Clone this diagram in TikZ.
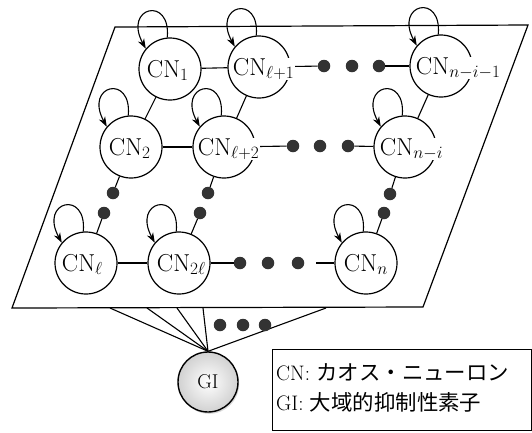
\documentclass[tikz,border=0pt]{standalone}
\usepackage{fontspec}
\newfontfamily\cjk[Scale=1.02]{Noto Sans CJK JP}
\usetikzlibrary{arrows.meta,calc,shadows}
\begin{document}
\begin{tikzpicture}[x=1pt,y=-1pt,
  cn/.style={circle, draw, line width=1.2pt, minimum size=62pt, inner sep=0pt, fill=white},
  lab/.style={anchor=base west, fill=white, inner sep=0.3pt, font=\fontsize{24.5}{27}\selectfont},
  dotn/.style={circle, fill=black!80, draw=none, inner sep=0pt, minimum size=12.5pt},
  conn/.style={line width=1.1pt},
  loopst/.style={line width=1.1pt, -{Stealth[length=10pt,width=7pt]}},
  legtext/.style={anchor=base west, inner sep=0pt, font=\fontsize{21}{24}\selectfont}
]
\newcommand\selfloop[1]{\draw[loopst] (#1.95) .. controls +(4,-42) and +(-23,-42) .. (#1.140);}
\useasboundingbox (0,0) rectangle (532,432);
% plane
\coordinate (p1) at (12,308);
\coordinate (p2) at (423,307);
\coordinate (p3) at (528,25);
\coordinate (p4) at (115,27);
\draw[line width=1.2pt] (p1) -- (p2) -- (p3) -- (p4) -- cycle;
% GI
\node[circle, draw, line width=1.4pt, minimum size=60pt, inner sep=0pt, inner color=white, outer color=black!18,
  drop shadow={shadow xshift=1.2pt, shadow yshift=-1.8pt, opacity=0.3}, font=\fontsize{20}{23}\selectfont] (gi) at (208,382) {GI};
\coordinate (b1) at (110,308);
\coordinate (b2) at (147,308);
\coordinate (b3) at (177,308);
\coordinate (b4) at (203,308);
\coordinate (b5) at (326,308);
\foreach \b in {b1,b2,b3,b4,b5} \draw[conn] (gi.north) -- (\b);
\node[dotn] (g1) at (220,325) {};
\node[dotn] (g2) at (243,325) {};
\node[dotn] (g3) at (265,325) {};
% neurons
\node[cn] (cn1) at (170,69) {};
\node[cn] (cnl1) at (259,67) {};
\node[cn] (cnni1) at (441,66) {};
\node[cn] (cn2) at (131,147) {};
\node[cn] (cnl2) at (224,147) {};
\node[cn] (cnni) at (405,147) {};
\node[cn] (cnl) at (86,263) {};
\node[cn] (cn2l) at (179,263) {};
\node[cn] (cnn) at (366,263) {};
% dots
\node[dotn] (r1a) at (324,66) {};
\node[dotn] (r1b) at (352,66) {};
\node[dotn] (r1c) at (379,66) {};
\node[dotn] (r2a) at (293,146) {};
\node[dotn] (r2b) at (320,146) {};
\node[dotn] (r2c) at (348,146) {};
\node[dotn] (r3a) at (240,263) {};
\node[dotn] (r3b) at (268,263) {};
\node[dotn] (r3c) at (298,263) {};
\coordinate (r3e) at (316,263);
\node[dotn] (c1a) at (113,193) {};
\node[dotn] (c1b) at (104,213) {};
\node[dotn] (c2a) at (208,193) {};
\node[dotn] (c2b) at (200,213) {};
\node[dotn] (c3a) at (390,194) {};
\node[dotn] (c3b) at (384,213) {};
% connectors
\draw[conn] (cn1) -- (cnl1);
\draw[conn] (cn1) -- (cn2);
\draw[conn] (cnl1) -- (cnl2);
\draw[conn] (cn2) -- (cnl2);
\draw[conn] (cnni1) -- (cnni);
\draw[conn] (cnl) -- (cn2l);
\draw[conn] (cnl1) -- (r1a);
\draw[conn] (r1c) -- (cnni1);
\draw[conn] (cnl2) -- (r2a);
\draw[conn] (r2c) -- (cnni);
\draw[conn] (cn2l) -- (r3a);
\draw[conn] (r3e) -- (cnn);
\draw[conn] (cn2) -- (c1a);
\draw[conn] (cnl) -- (c1b);
\draw[conn] (cnl2) -- (c2a);
\draw[conn] (cn2l) -- (c2b);
\draw[conn] (cnni) -- (c3a);
\draw[conn] (cnn) -- (c3b);
% self loops
\foreach \n in {cn1,cnl1,cnni1,cn2,cnl2,cnni,cnl,cn2l,cnn} {\selfloop{\n}}
% labels
\node[lab] (t1) at ([xshift=8pt,yshift=-8pt]cn1.west) {CN$_1$};
\node[lab] (t2) at ([xshift=5pt,yshift=-8pt]cnl1.west) {CN$_{\ell+1}$};
\node[lab] (t3) at ([xshift=6pt,yshift=-8pt]cnni1.west) {CN$_{n-i-1}$};
\node[lab] (t4) at ([xshift=9pt,yshift=-8pt]cn2.west) {CN$_2$};
\node[lab] (t5) at ([xshift=5pt,yshift=-8pt]cnl2.west) {CN$_{\ell+2}$};
\node[lab] (t6) at ([xshift=6pt,yshift=-8pt]cnni.west) {CN$_{n-i}$};
\node[lab] (t7) at ([xshift=7pt,yshift=-8pt]cnl.west) {CN$_{\ell}$};
\node[lab] (t8) at ([xshift=9pt,yshift=-8pt]cn2l.west) {CN$_{2\ell}$};
\node[lab] (t9) at ([xshift=9pt,yshift=-8pt]cnn.west) {CN$_{n}$};
% legend
\node[draw, line width=1.1pt, minimum width=259pt, minimum height=81pt, anchor=north west, inner sep=0pt] (leg) at (272,349) {};
\node[legtext] (l1) at (276,380) {CN: {\cjk カオス・ニューロン}};
\node[legtext] (l2) at (276,410) {GI: {\cjk 大域的抑制性素子}};
\end{tikzpicture}
\end{document}
